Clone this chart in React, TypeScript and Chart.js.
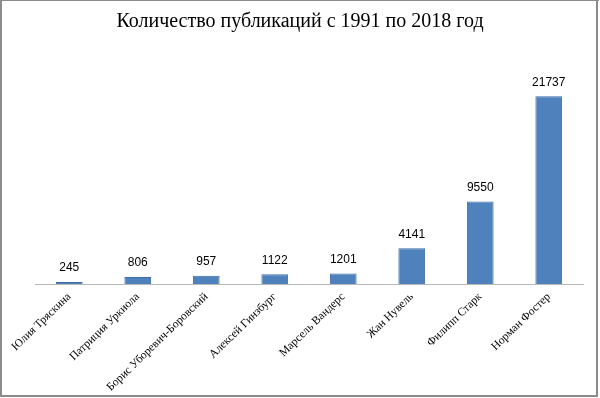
import React, { useEffect, useRef } from "react";
import { Chart, registerables } from "chart.js";

Chart.register(...registerables);

const titleText = "Количество публикаций с 1991 по 2018 год";
const categories = [
  "Юлия Тряскина",
  "Патриция Уркиола",
  "Борис Уборевич-Боровский",
  "Алексей Гинзбург",
  "Марсель Вандерс",
  "Жан Нувель",
  "Филипп Старк",
  "Норман Фостер",
];
const publications = [245, 806, 957, 1122, 1201, 4141, 9550, 21737];
const yMax = 25000;

const dataLabels = {
  id: "dataLabels",
  afterDatasetsDraw(chart: any) {
    const ctx = chart.ctx;
    const meta = chart.getDatasetMeta(0);
    const ds = chart.data.datasets[0];
    ctx.save();
    ctx.font = "12px 'Liberation Sans', Arial, sans-serif";
    ctx.fillStyle = "#000";
    ctx.textAlign = "center";
    ctx.textBaseline = "middle";
    meta.data.forEach((el: any, i: number) => {
      ctx.fillText(String(ds.data[i]), el.x, el.y - 14);
    });
    ctx.restore();
  },
};

const titleAndFrame = {
  id: "titleAndFrame",
  afterDraw(chart: any) {
    const ctx = chart.ctx;
    const w = chart.width;
    const h = chart.height;
    ctx.save();
    ctx.fillStyle = "#000";
    ctx.font = "20px 'Liberation Serif', 'Times New Roman', serif";
    ctx.textAlign = "center";
    ctx.textBaseline = "middle";
    ctx.fillText(titleText, w / 2, 22);
    ctx.fillStyle = "#8c8c8c";
    ctx.fillRect(0, 0, 2, h - 1);
    ctx.fillRect(0, 0, w - 1, 1);
    ctx.fillRect(w - 4, 0, 2, h - 1);
    ctx.fillRect(0, h - 3, w - 2, 2);
    ctx.restore();
  },
};

export default function App() {
  const ref = useRef<HTMLCanvasElement>(null);
  useEffect(() => {
    if (!ref.current) return;
    const chart = new Chart(ref.current, {
      type: "bar",
      data: {
        labels: categories,
        datasets: [
          {
            data: publications,
            backgroundColor: "#4F81BD",
            borderColor: "#3E6DA3",
            borderWidth: 1,
            barPercentage: 0.78,
            categoryPercentage: 0.5,
          },
        ],
      },
      options: {
        responsive: false,
        animation: false,
        layout: { padding: { left: 35, right: 17, top: 68, bottom: 0 } },
        plugins: {
          legend: { display: false },
          tooltip: { enabled: false },
          title: { display: false },
        },
        scales: {
          x: {
            grid: { display: false, drawTicks: false },
            border: { display: true, color: "#b8b8b8", width: 1 },
            ticks: {
              minRotation: 44,
              maxRotation: 44,
              autoSkip: false,
              color: "#000",
              padding: 6,
              font: { family: "'Liberation Serif', 'Times New Roman', serif", size: 11.5 },
            },
            afterFit(scale: any) {
              scale.height = 114;
              scale.paddingLeft = 0;
              scale.paddingRight = 0;
            },
          },
          y: {
            display: false,
            min: 0,
            max: yMax,
          },
        },
      },
      plugins: [dataLabels, titleAndFrame],
    });
    return () => chart.destroy();
  }, []);
  return (
    <div style={{ position: "absolute", left: 0, top: 0, width: 600, height: 398, background: "#fff" }}>
      <canvas ref={ref} width={600} height={398} />
    </div>
  );
}
